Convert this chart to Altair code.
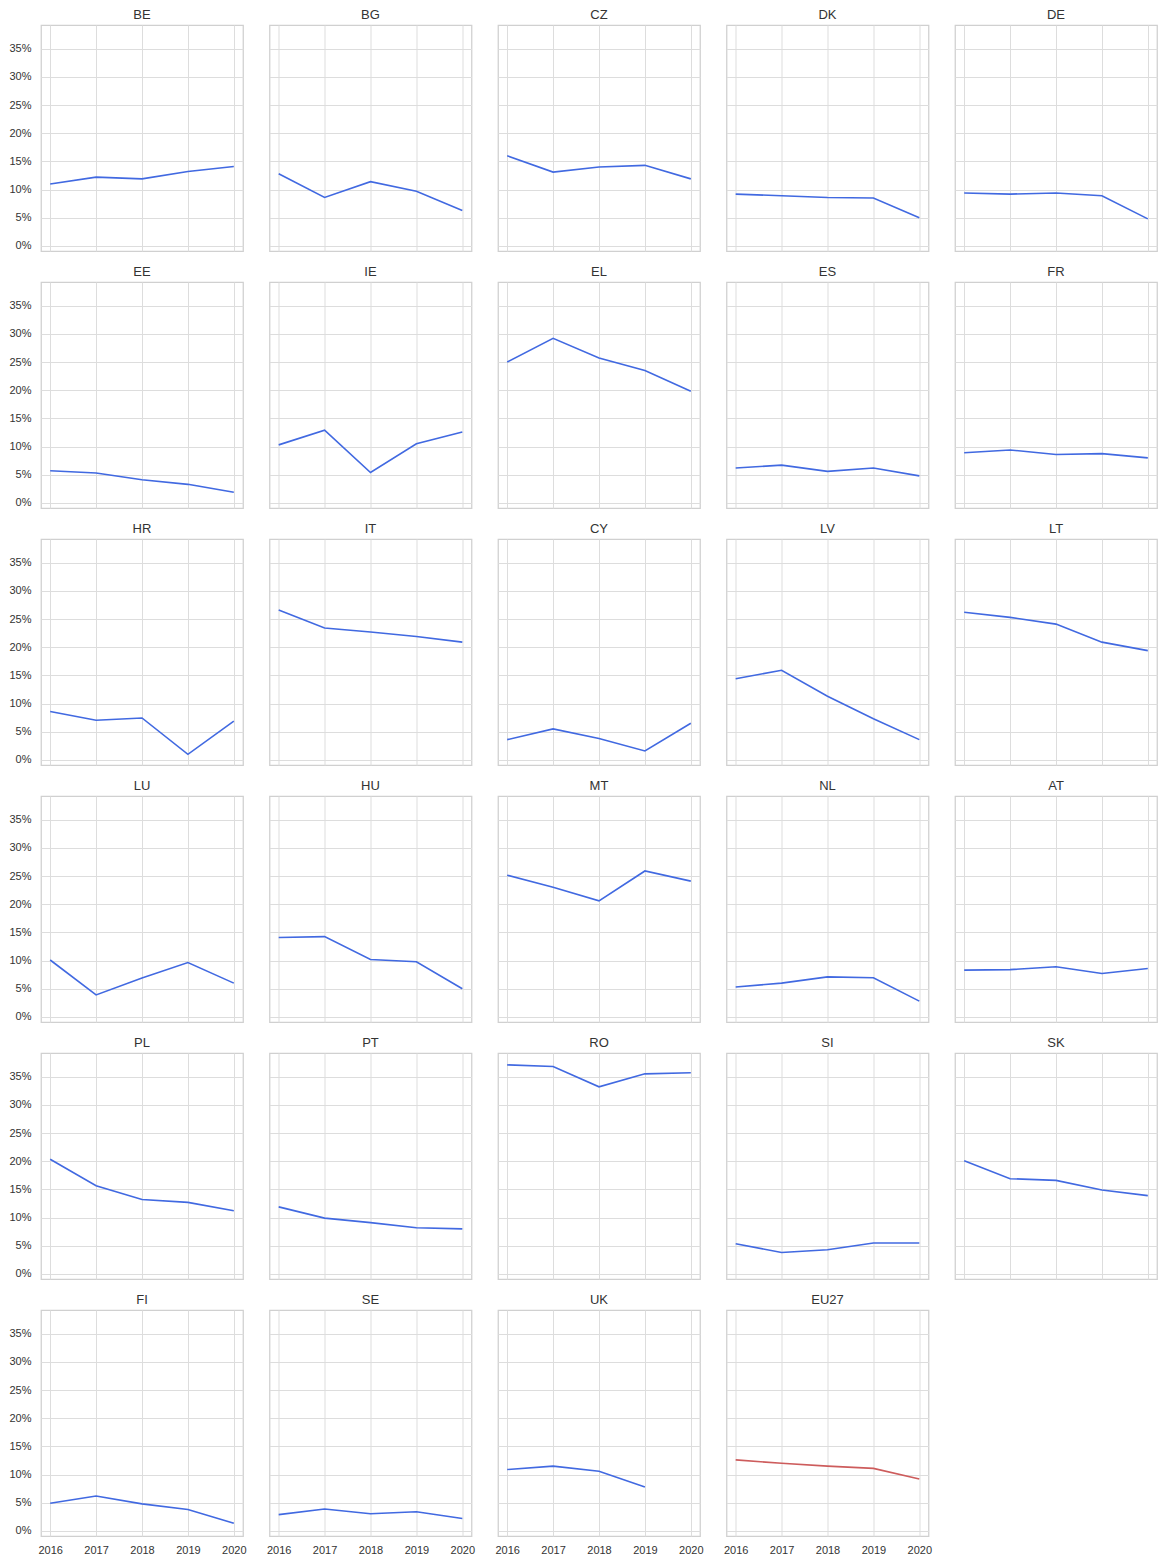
import altair as alt
import pandas as pd

years = [2016, 2017, 2018, 2019, 2020]
countries = ["BE", "BG", "CZ", "DK", "DE",
             "EE", "IE", "EL", "ES", "FR",
             "HR", "IT", "CY", "LV", "LT",
             "LU", "HU", "MT", "NL", "AT",
             "PL", "PT", "RO", "SI", "SK",
             "FI", "SE", "UK", "EU27"]

BE = [11.0, 12.2, 11.9, 13.2, 14.1]
BG = [12.8, 8.6, 11.4, 9.7, 6.3]
CZ = [16.0, 13.1, 14.0, 14.3, 11.9]
DK = [9.2, 8.9, 8.6, 8.5, 5.0]
DE = [9.4, 9.2, 9.4, 8.9, 4.8]
EE = [5.7, 5.3, 4.1, 3.3, 1.9]
IE = [10.3, 12.9, 5.4, 10.5, 12.6]
EL = [25.0, 29.2, 25.7, 23.5, 19.8]
ES = [6.2, 6.7, 5.6, 6.2, 4.8]
FR = [8.9, 9.4, 8.6, 8.75, 8.0]
HR = [8.6, 7.05, 7.45, 1.0, 6.9]
IT = [26.6, 23.4, 22.7, 21.9, 20.9]
CY = [3.6, 5.5, 3.8, 1.6, 6.5]
LV = [14.4, 15.9, 11.3, 7.3, 3.6]
LT = [26.2, 25.3, 24.1, 20.9, 19.4]
LU = [10.1, 3.9, 6.9, 9.65, 6.0]
HU = [14.1, 14.25, 10.2, 9.8, 5.0]
MT = [25.15, 23.0, 20.6, 25.9, 24.1]
NL = [5.3, 6.0, 7.1, 6.95, 2.8]
AT = [8.3, 8.4, 8.9, 7.7, 8.6]
PL = [20.35, 15.65, 13.2, 12.7, 11.2]
PT = [11.9, 9.9, 9.1, 8.2, 8.0]
RO = [37.1, 36.8, 33.2, 35.5, 35.7]
SI = [5.35, 3.8, 4.3, 5.5, 5.5]
SK = [20.1, 16.9, 16.6, 14.9, 13.9]
FI = [4.9, 6.2, 4.8, 3.8, 1.35]
SE = [2.9, 3.9, 3.05, 3.4, 2.2]
UK = [10.9, 11.5, 10.6, 7.8, None]
EU27 = [12.6, 12.0, 11.5, 11.1, 9.2]

series = {"BE": BE, "BG": BG, "CZ": CZ, "DK": DK, "DE": DE, "EE": EE, "IE": IE,
          "EL": EL, "ES": ES, "FR": FR, "HR": HR, "IT": IT, "CY": CY, "LV": LV,
          "LT": LT, "LU": LU, "HU": HU, "MT": MT, "NL": NL, "AT": AT, "PL": PL,
          "PT": PT, "RO": RO, "SI": SI, "SK": SK, "FI": FI, "SE": SE, "UK": UK,
          "EU27": EU27}

rows = []
for c in countries:
    for yr, v in zip(years, series[c]):
        if v is not None:
            rows.append({"country": c, "year": yr, "value": v})
df = pd.DataFrame(rows)

FONT = "Liberation Sans"
panels = []
for i, c in enumerate(countries):
    first_col = (i % 5 == 0)
    last_row = (i >= 25)
    color = "#CD5C5C" if c == "EU27" else "#4169E1"
    xaxis = alt.Axis(values=years, format="d", labels=last_row, ticks=False,
                     domain=False, title=None, grid=True,
                     labelPadding=8 if last_row else 0,
                     labelFontSize=11, labelColor="#333333", labelFont=FONT)
    yaxis = alt.Axis(values=[0, 5, 10, 15, 20, 25, 30, 35],
                     labelExpr="datum.value + '%'", labels=first_col,
                     ticks=False, domain=False, title=None, grid=True,
                     labelPadding=10 if first_col else 0,
                     labelFontSize=11, labelColor="#333333", labelFont=FONT)
    ch = alt.Chart(df).transform_filter(
        alt.datum.country == c
    ).mark_line(color=color, strokeWidth=1.6).encode(
        x=alt.X("year:Q", scale=alt.Scale(domain=[2015.8, 2020.2], nice=False, zero=False), axis=xaxis),
        y=alt.Y("value:Q", scale=alt.Scale(domain=[-0.9, 39.2], nice=False, zero=False), axis=yaxis),
    ).properties(
        width=202, height=226,
        title=alt.TitleParams(c, fontSize=13, font=FONT, fontWeight="normal",
                              color="#333333", offset=3, anchor="middle"),
    )
    panels.append(ch)

chart = alt.concat(*panels, columns=5, spacing={"row": 31, "column": 26.5}).configure_view(
    stroke="#d0d0d0", strokeWidth=1.25
).configure_axis(
    gridColor="#dddddd", gridWidth=1
).properties(
    background="white", padding=0
)
chart.align = "each"
chart.bounds = "flush"

chart.save("out.html", embed_options={"renderer": "svg", "actions": False})
